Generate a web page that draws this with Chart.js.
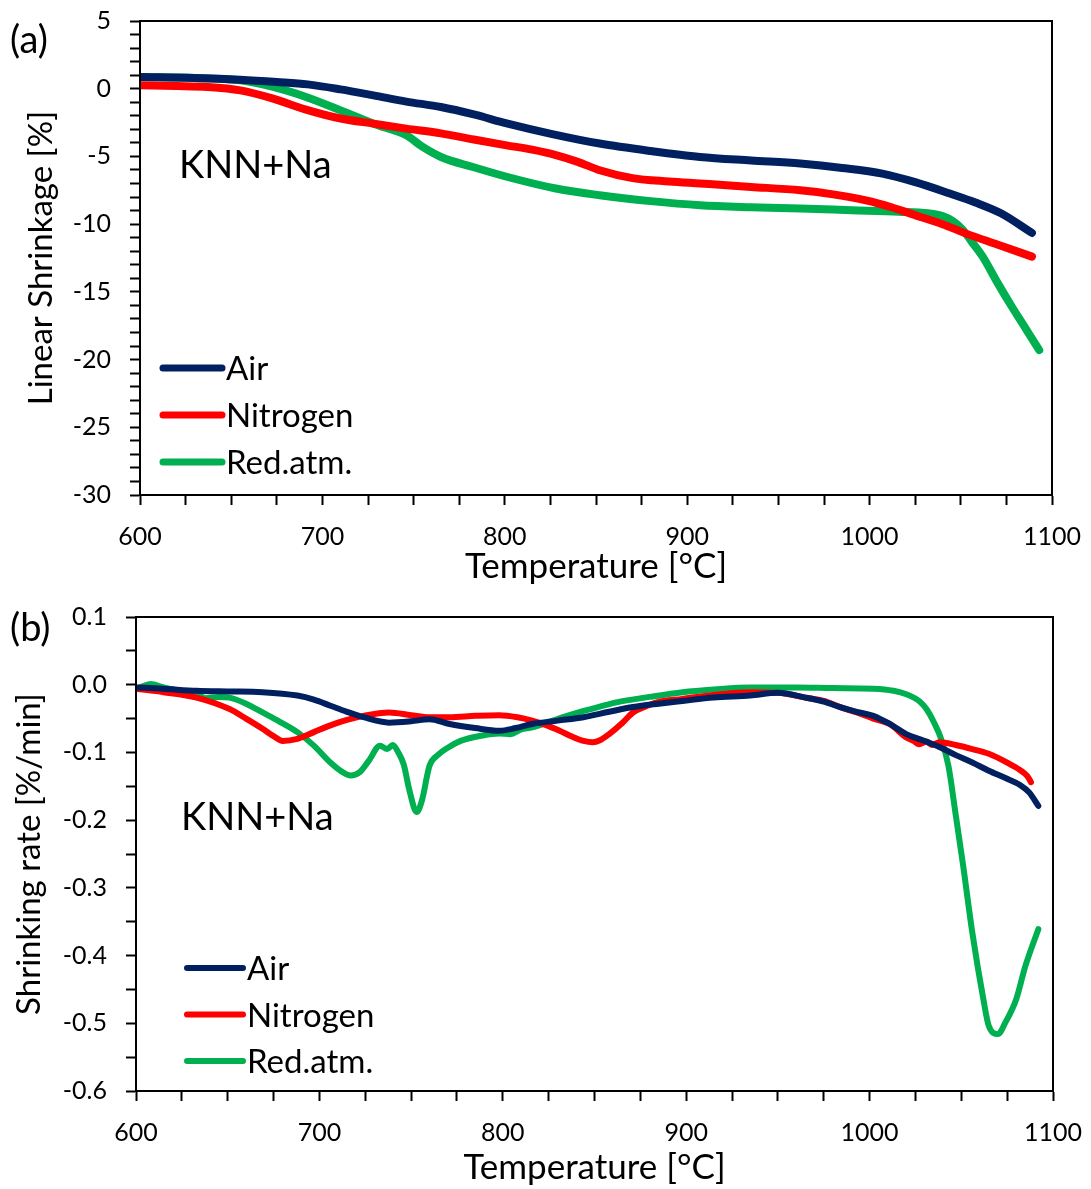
<!DOCTYPE html>
<html>
<head>
<meta charset="utf-8">
<script src="https://cdn.jsdelivr.net/npm/chart.js@4.4.1/dist/chart.umd.min.js"></script>
<style>
  body { margin: 0; background: #fff; }
  #wrap { position: relative; width: 1091px; height: 1189px; }
  canvas { position: absolute; left: 0; }
  #shrink { top: 0; }
  #rate { top: 600px; }
</style>
</head>
<body>
<div id="wrap">
  <canvas id="shrink" width="1091" height="600"></canvas>
  <canvas id="rate" width="1091" height="589"></canvas>
</div>
<script>
const seriesNames = ['Air', 'Nitrogen', 'Red.atm.'];
const seriesColors = ['#002060', '#ff0000', '#00b050'];

// (a) linear shrinkage [%] vs temperature
const airShrinkT = [600, 630, 655, 675, 692, 710, 728, 746, 765, 783, 801, 826, 852, 880, 907, 935, 962, 985, 1007, 1025, 1044, 1058, 1072, 1089];
const airShrinkV = [0.86, 0.8, 0.67, 0.5, 0.32, -0.05, -0.49, -0.95, -1.35, -1.9, -2.56, -3.35, -4.05, -4.6, -5.04, -5.3, -5.53, -5.85, -6.27, -6.9, -7.74, -8.4, -9.2, -10.65];
const n2ShrinkT = [600, 620, 637, 655, 673, 691, 710, 728, 746, 765, 783, 801, 815, 828, 840, 852, 870, 890, 907, 935, 962, 980, 998, 1012, 1025, 1040, 1053, 1070, 1089];
const n2ShrinkV = [0.25, 0.2, 0.13, -0.12, -0.73, -1.54, -2.2, -2.58, -2.95, -3.3, -3.75, -4.18, -4.5, -4.9, -5.4, -6.02, -6.6, -6.85, -7.0, -7.25, -7.5, -7.8, -8.24, -8.75, -9.34, -10.0, -10.7, -11.5, -12.4];
const redShrinkT = [600, 630, 655, 673, 691, 710, 728, 746, 755, 765, 783, 801, 828, 852, 880, 907, 935, 962, 990, 1016, 1032, 1040, 1046, 1051, 1056, 1062, 1070, 1078, 1086, 1093];
const redShrinkV = [0.86, 0.8, 0.62, 0.13, -0.61, -1.6, -2.58, -3.44, -4.3, -5.04, -5.8, -6.5, -7.37, -7.87, -8.3, -8.6, -8.75, -8.85, -8.97, -9.08, -9.2, -9.4, -9.8, -10.4, -11.3, -12.4, -14.3, -16.1, -17.8, -19.3];

// (b) shrinking rate [%/min] vs temperature
const airRateT = [600, 615, 633, 650, 669, 688, 697, 706, 715, 724, 738, 750, 760, 771, 785, 798, 807, 816, 830, 844, 858, 871, 885, 898, 915, 935, 950, 965, 975, 984, 993, 1002, 1011, 1020, 1029, 1038, 1047, 1056, 1065, 1075, 1082, 1087, 1092];
const airRateV = [-0.004, -0.006, -0.009, -0.01, -0.011, -0.016, -0.022, -0.031, -0.04, -0.048, -0.056, -0.054, -0.051, -0.058, -0.064, -0.068, -0.064, -0.058, -0.053, -0.048, -0.04, -0.033, -0.028, -0.024, -0.019, -0.016, -0.012, -0.019, -0.025, -0.033, -0.04, -0.046, -0.058, -0.073, -0.082, -0.092, -0.104, -0.115, -0.127, -0.139, -0.148, -0.159, -0.179];
const n2RateT = [600, 615, 633, 651, 660, 669, 675, 680, 688, 697, 706, 715, 724, 738, 750, 760, 771, 785, 798, 808, 816, 824, 831, 838, 844, 849, 853, 858, 865, 871, 878, 884, 898, 915, 935, 950, 965, 975, 984, 993, 1002, 1011, 1020, 1024, 1027, 1031, 1034, 1038, 1047, 1056, 1065, 1075, 1082, 1086, 1088];
const n2RateV = [-0.006, -0.011, -0.019, -0.036, -0.05, -0.065, -0.076, -0.083, -0.08, -0.07, -0.06, -0.052, -0.046, -0.041, -0.045, -0.048, -0.048, -0.046, -0.045, -0.048, -0.053, -0.06, -0.068, -0.077, -0.083, -0.085, -0.082, -0.073, -0.057, -0.041, -0.032, -0.026, -0.021, -0.015, -0.011, -0.012, -0.019, -0.024, -0.033, -0.041, -0.05, -0.058, -0.078, -0.083, -0.088, -0.084, -0.089, -0.085, -0.089, -0.095, -0.102, -0.115, -0.126, -0.135, -0.144];
const redRateT = [600, 604, 608, 615, 625, 633, 638, 645, 651, 660, 669, 678, 688, 697, 706, 712, 717, 722, 727, 733, 737, 740, 743, 746, 749, 753, 756, 760, 765, 770, 777, 789, 798, 804, 810, 816, 825, 835, 848, 862, 880, 898, 915, 935, 960, 980, 1002, 1013, 1020, 1027, 1031, 1035, 1039, 1043, 1047, 1051, 1056, 1062, 1065, 1070, 1074, 1080, 1085, 1092];
const redRateV = [-0.006, -0.002, 0.001, -0.004, -0.01, -0.014, -0.02, -0.018, -0.019, -0.028, -0.041, -0.054, -0.07, -0.09, -0.115, -0.128, -0.134, -0.129, -0.112, -0.09, -0.095, -0.089, -0.1, -0.118, -0.155, -0.188, -0.17, -0.12, -0.103, -0.093, -0.083, -0.075, -0.072, -0.073, -0.066, -0.063, -0.055, -0.046, -0.036, -0.026, -0.018, -0.011, -0.007, -0.004, -0.004, -0.005, -0.006, -0.009, -0.014, -0.024, -0.036, -0.055, -0.08, -0.12, -0.193, -0.267, -0.366, -0.464, -0.504, -0.516, -0.499, -0.464, -0.415, -0.361];

const FONT = 'Lato, "Open Sans", sans-serif';

function points(xs, ys) {
  return xs.map((x, i) => ({x: x, y: ys[i]}));
}

// keep the plot box where the layout padding puts it, labels may overhang
function fixSize(prop, size) {
  return scale => {
    scale[prop] = size;
    scale.paddingTop = scale.paddingBottom = 0;
    scale.paddingLeft = scale.paddingRight = 0;
  };
}

// box around the plot, panel letter, sample name and a hand placed legend
const decorations = {
  id: 'decorations',
  afterDatasetsDraw(chart, args, o) {
    const {ctx, chartArea: a} = chart;
    ctx.save();
    ctx.strokeStyle = '#000';
    ctx.lineWidth = 2;
    ctx.strokeRect(a.left, a.top, a.right - a.left, a.bottom - a.top);

    ctx.fillStyle = '#000';
    ctx.textAlign = 'left';
    ctx.textBaseline = 'alphabetic';
    ctx.font = '38px ' + FONT;
    ctx.fillText(o.panel, o.panelX, o.panelY);
    ctx.fillText('KNN+Na', o.sampleX, o.sampleY);

    ctx.font = o.legendFont + 'px ' + FONT;
    ctx.lineCap = 'round';
    ctx.lineWidth = o.legendLine;
    chart.data.datasets.forEach((ds, i) => {
      const base = o.legendY + i * o.legendGap;
      ctx.strokeStyle = ds.borderColor;
      ctx.beginPath();
      ctx.moveTo(o.legendX, base - 12);
      ctx.lineTo(o.legendX + o.legendLen, base - 12);
      ctx.stroke();
      ctx.fillText(ds.label, o.legendX + o.legendLen + 4, base);
    });
    ctx.restore();
  }
};

function makeChart(id, cfg) {
  const datasets = cfg.series.map((s, i) => ({
    label: seriesNames[i],
    data: points(s[0], s[1]),
    borderColor: seriesColors[i],
    borderWidth: cfg.lineWidth,
    borderCapStyle: 'round',
    borderJoinStyle: 'round',
    pointRadius: 0,
    cubicInterpolationMode: 'monotone',
    fill: false
  }));

  return new Chart(document.getElementById(id), {
    type: 'line',
    data: {datasets: datasets},
    plugins: [decorations],
    options: {
      responsive: false,
      animation: false,
      devicePixelRatio: 1,
      layout: {padding: {top: cfg.top, right: cfg.right, left: 0, bottom: 0}},
      plugins: {
        legend: {display: false},
        tooltip: {enabled: false},
        decorations: cfg.deco
      },
      scales: {
        x: {
          type: 'linear',
          min: 600,
          max: 1100,
          afterFit: fixSize('height', cfg.xHeight),
          grid: {drawOnChartArea: false, tickLength: 10, tickWidth: 2, tickColor: '#000'},
          border: {color: '#000', width: 2},
          ticks: {
            stepSize: 25,
            autoSkip: false,
            maxRotation: 0,
            padding: 17,
            color: '#000',
            font: {family: FONT, size: 25},
            callback: v => (v % 100 === 0 ? String(v) : '')
          },
          title: {
            display: true,
            text: 'Temperature [°C]',
            color: '#000',
            font: {family: FONT, size: 35},
            padding: {top: 0, bottom: cfg.xTitlePad}
          }
        },
        y: {
          min: cfg.yMin,
          max: cfg.yMax,
          afterFit: fixSize('width', cfg.yWidth),
          grid: {drawOnChartArea: false, tickLength: 10, tickWidth: 2, tickColor: '#000'},
          border: {color: '#000', width: 2},
          ticks: {
            stepSize: cfg.yStep,
            autoSkip: false,
            padding: 19,
            color: '#000',
            font: {family: FONT, size: 25},
            callback: cfg.yLabel
          },
          title: {
            display: true,
            text: cfg.yTitle,
            color: '#000',
            font: {family: FONT, size: 33},
            padding: {top: cfg.yTitlePad, bottom: 0}
          }
        }
      }
    }
  });
}

makeChart('shrink', {
  series: [[airShrinkT, airShrinkV], [n2ShrinkT, n2ShrinkV], [redShrinkT, redShrinkV]],
  lineWidth: 8,
  top: 21, right: 39, xHeight: 105, yWidth: 140,
  xTitlePad: 12, yTitlePad: 22,
  yMin: -30, yMax: 5, yStep: 1,
  yLabel: v => (v % 5 === 0 ? String(v) : ''),
  yTitle: 'Linear Shrinkage [%]',
  deco: {panel: '(a)', panelX: 10, panelY: 53, sampleX: 179, sampleY: 178,
         legendX: 163, legendY: 380, legendGap: 47, legendLen: 59, legendLine: 7, legendFont: 33}
});

makeChart('rate', {
  series: [[airRateT, airRateV], [n2RateT, n2RateV], [redRateT, redRateV]],
  lineWidth: 6,
  top: 17, right: 38, xHeight: 98, yWidth: 136,
  xTitlePad: 0, yTitlePad: 10,
  yMin: -0.6, yMax: 0.1, yStep: 0.05,
  yLabel: v => {
    const t = Math.round(v * 20);
    if (t % 2 !== 0) return '';
    const r = t / 20;
    return r === 0 ? '0.0' : r.toFixed(1);
  },
  yTitle: 'Shrinking rate [%/min]',
  deco: {panel: '(b)', panelX: 10, panelY: 41, sampleX: 181, sampleY: 230,
         legendX: 187, legendY: 380, legendGap: 46.5, legendLen: 56, legendLine: 6, legendFont: 33}
});
</script>
</body>
</html>
